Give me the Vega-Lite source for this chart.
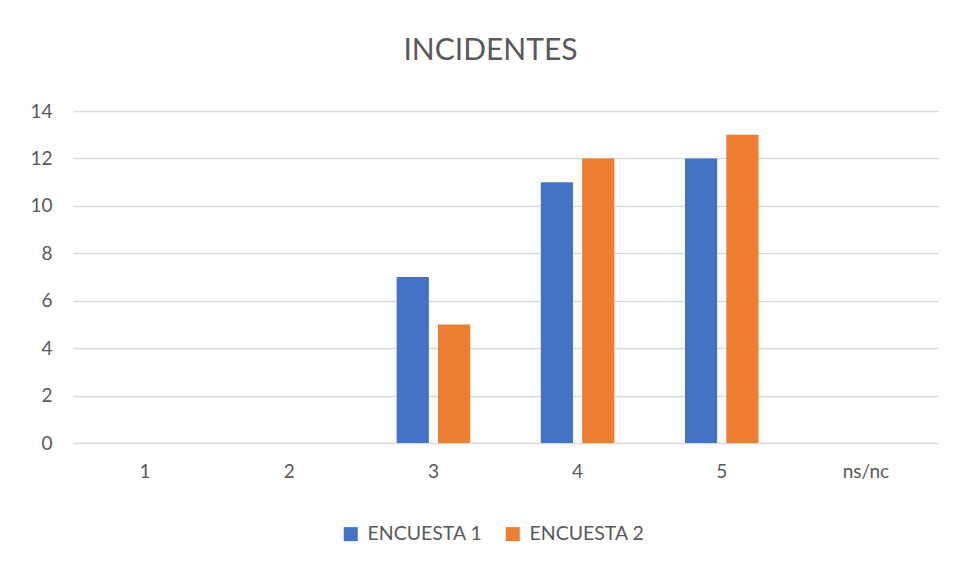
{
  "$schema": "https://vega.github.io/schema/vega-lite/v6.json",
  "autosize": {"type": "none"},
  "width": 865,
  "height": 332,
  "padding": {"left": 73, "top": 111, "right": 22, "bottom": 130},
  "background": "#ffffff",
  "title": {
    "text": "INCIDENTES",
    "font": "Lato",
    "fontSize": 30,
    "fontWeight": "normal",
    "color": "#595959",
    "anchor": "middle",
    "dx": -15,
    "offset": 36
  },
  "data": {
    "values": [
      {"categoria": "1", "encuesta": "ENCUESTA 1", "valor": 0},
      {"categoria": "1", "encuesta": "ENCUESTA 2", "valor": 0},
      {"categoria": "2", "encuesta": "ENCUESTA 1", "valor": 0},
      {"categoria": "2", "encuesta": "ENCUESTA 2", "valor": 0},
      {"categoria": "3", "encuesta": "ENCUESTA 1", "valor": 7},
      {"categoria": "3", "encuesta": "ENCUESTA 2", "valor": 5},
      {"categoria": "4", "encuesta": "ENCUESTA 1", "valor": 11},
      {"categoria": "4", "encuesta": "ENCUESTA 2", "valor": 12},
      {"categoria": "5", "encuesta": "ENCUESTA 1", "valor": 12},
      {"categoria": "5", "encuesta": "ENCUESTA 2", "valor": 13},
      {"categoria": "ns/nc", "encuesta": "ENCUESTA 1", "valor": 0},
      {"categoria": "ns/nc", "encuesta": "ENCUESTA 2", "valor": 0}
    ]
  },
  "mark": {"type": "bar"},
  "encoding": {
    "x": {
      "field": "categoria",
      "type": "nominal",
      "sort": ["1", "2", "3", "4", "5", "ns/nc"],
      "scale": {"paddingInner": 0.49, "paddingOuter": 0.245},
      "axis": {
        "title": null,
        "labelAngle": 0,
        "ticks": false,
        "domain": false,
        "labelPadding": 19,
        "labelFont": "Lato",
        "labelFontSize": 19,
        "labelColor": "#595959"
      }
    },
    "xOffset": {
      "field": "encuesta",
      "type": "nominal",
      "scale": {"paddingInner": 0.22, "paddingOuter": 0}
    },
    "y": {
      "field": "valor",
      "type": "quantitative",
      "scale": {"domain": [0, 14], "nice": false},
      "axis": {
        "title": null,
        "values": [0, 2, 4, 6, 8, 10, 12, 14],
        "ticks": false,
        "domain": false,
        "grid": true,
        "gridColor": "#d9d9d9",
        "gridWidth": 1.3,
        "labelPadding": 21,
        "labelFont": "Lato",
        "labelFontSize": 19,
        "labelColor": "#595959"
      }
    },
    "color": {
      "field": "encuesta",
      "type": "nominal",
      "scale": {"range": ["#4472C4", "#ED7D31"]},
      "legend": {
        "title": null,
        "orient": "none",
        "direction": "horizontal",
        "legendX": 268,
        "legendY": 413,
        "symbolType": "square",
        "symbolSize": 196,
        "symbolStrokeWidth": 0,
        "symbolOpacity": 1,
        "labelFont": "Lato",
        "labelFontSize": 19.5,
        "labelColor": "#595959",
        "labelOffset": 7,
        "columnPadding": 20
      }
    }
  },
  "config": {
    "view": {"stroke": null}
  }
}
